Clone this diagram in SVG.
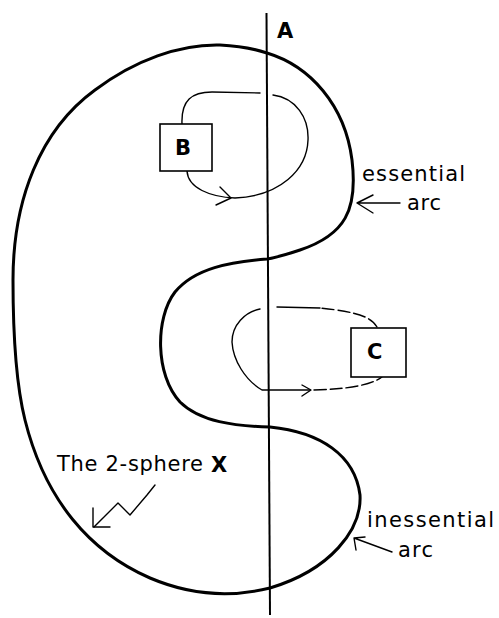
<svg xmlns="http://www.w3.org/2000/svg" width="499" height="618" viewBox="0 0 499 618">
<style>
.bg{fill:#fff}
.sphere{fill:none;stroke:#000;stroke-width:3;stroke-linejoin:round}
.axis{fill:none;stroke:#000;stroke-width:2}
.loop{fill:none;stroke:#000;stroke-width:1.4;stroke-linecap:round;stroke-linejoin:round}
.dash{stroke-dasharray:12 4}
.box{fill:#fff;stroke:#000;stroke-width:1.6}
.lbl{font-family:"DejaVu Sans",sans-serif;font-size:21px;fill:#000}
.bold{font-weight:bold}
</style>
<rect class="bg" x="0" y="0" width="499" height="618"/>
<g id="sphere">
<path class="sphere" d="M267,53 C310,66 345,105 352,160 C358,210 345,235 300,250 C285,255 275,258 267,259 C230,262 195,268 175,292 C155,318 155,375 180,402 C200,422 235,426 270,427 C320,432 355,455 360,495 C362,530 330,570 270,588 C230,598 190,595 150,578 C90,552 45,500 25,420 C15,380 13,330 13,280 C13,200 40,130 95,90 C135,60 180,44 220,45 C240,46 255,49 267,53 Z"/>
</g>
<g id="axisA">
<line class="axis" x1="266.5" y1="13" x2="270" y2="615"/>
<text class="lbl bold" x="277" y="38" font-size="20">A</text>
</g>
<g id="connectors">
<path class="loop" d="M182,124 C181,100 192,92 212,92 L260,93"/>
<path class="loop" d="M273,95 C296,98 309,118 308,140 C307,170 280,196 235,198 C210,197 188,188 187,171"/>
<path class="loop" d="M220,187 L231,198 L216,205"/>
<path class="loop" d="M320,308 L277,307"/>
<path class="loop dash" d="M377,327 C372,318 360,312 320,308"/>
<path class="loop" d="M260,309 C245,312 232,325 232,342 C233,360 245,380 262,390 L310,390"/>
<path class="loop dash" d="M314,390 C345,389 370,386 382,377"/>
<path class="loop" d="M302,385 L311,390 L302,396"/>
<path class="loop" d="M155,485 L147,495 L130,515 L118,503 L94,527"/>
<path class="loop" d="M93,508 L93,527 L110,527"/>
<path class="loop" d="M400,203 L357,203 M373,195 L357,203 L373,213"/>
<path class="loop" d="M392,552 L354,538 M365,537 L354,538 L356,550"/>
</g>
<g id="nodeB">
<rect class="box" x="160" y="124" width="52" height="47"/>
<text class="lbl bold" x="175" y="155">B</text>
</g>
<g id="nodeC">
<rect class="box" x="351" y="328" width="55" height="49"/>
<text class="lbl bold" x="367" y="359">C</text>
</g>
<g id="labels">
<text class="lbl" x="362" y="181" textLength="103" lengthAdjust="spacing">essential</text>
<text class="lbl" x="407" y="210" textLength="34" lengthAdjust="spacing">arc</text>
<text class="lbl" x="367" y="527" textLength="127" lengthAdjust="spacing">inessential</text>
<text class="lbl" x="398" y="557" textLength="35" lengthAdjust="spacing">arc</text>
<text class="lbl" x="57" y="471" textLength="146" lengthAdjust="spacing">The 2-sphere</text>
<text class="lbl bold" x="211" y="472" font-size="17">X</text>
</g>
</svg>
